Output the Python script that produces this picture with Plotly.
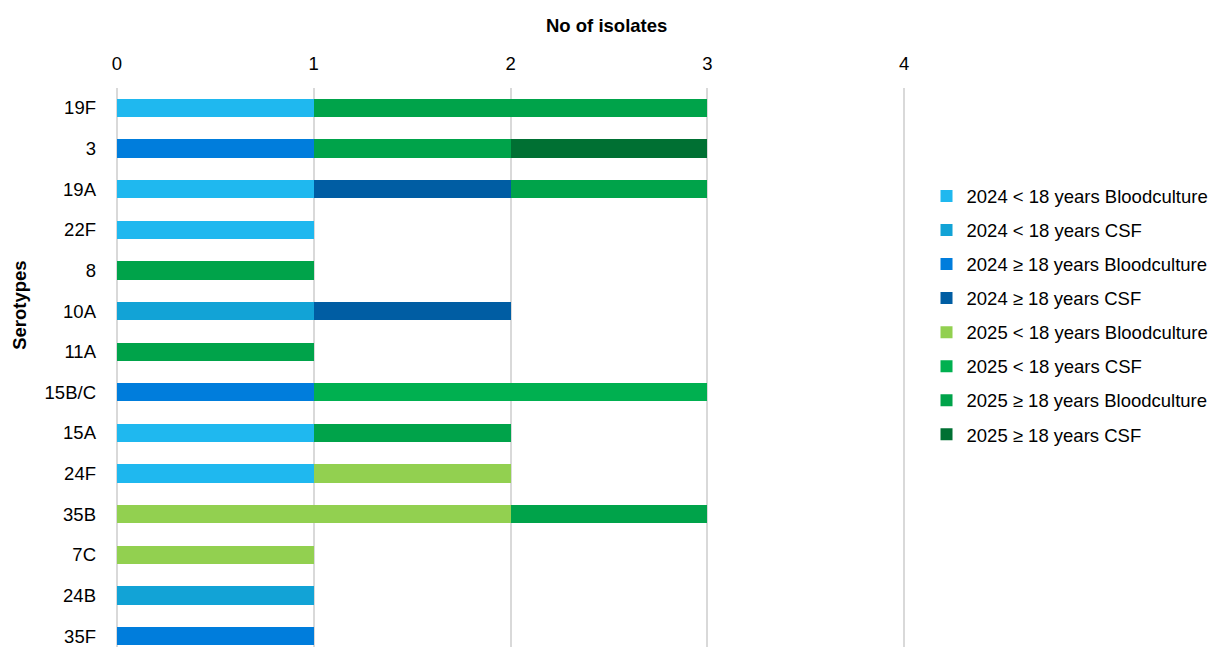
import plotly.graph_objects as go

# Serotypes, listed top to bottom
serotypes = ["19F", "3", "19A", "22F", "8", "10A", "11A", "15B/C",
             "15A", "24F", "35B", "7C", "24B", "35F"]

series_names = [
    "2024 < 18 years Bloodculture",
    "2024 < 18 years CSF",
    "2024 ≥ 18 years Bloodculture",
    "2024 ≥ 18 years CSF",
    "2025 < 18 years Bloodculture",
    "2025 < 18 years CSF",
    "2025 ≥ 18 years Bloodculture",
    "2025 ≥ 18 years CSF",
]

# Number of isolates per serotype (same order as serotypes)
y2024_u18_blood = [1, 0, 1, 1, 0, 0, 0, 0, 1, 1, 0, 0, 0, 0]
y2024_u18_csf   = [0, 0, 0, 0, 0, 1, 0, 0, 0, 0, 0, 0, 1, 0]
y2024_o18_blood = [0, 1, 0, 0, 0, 0, 0, 1, 0, 0, 0, 0, 0, 1]
y2024_o18_csf   = [0, 0, 1, 0, 0, 1, 0, 0, 0, 0, 0, 0, 0, 0]
y2025_u18_blood = [0, 0, 0, 0, 0, 0, 0, 0, 0, 1, 2, 1, 0, 0]
y2025_u18_csf   = [0, 0, 0, 0, 0, 0, 0, 2, 0, 0, 0, 0, 0, 0]
y2025_o18_blood = [2, 1, 1, 0, 1, 0, 1, 0, 1, 0, 1, 0, 0, 0]
y2025_o18_csf   = [0, 1, 0, 0, 0, 0, 0, 0, 0, 0, 0, 0, 0, 0]

values = [y2024_u18_blood, y2024_u18_csf, y2024_o18_blood, y2024_o18_csf,
          y2025_u18_blood, y2025_u18_csf, y2025_o18_blood, y2025_o18_csf]

colors = ["#1FB8EF", "#12A3D6", "#007DDC", "#005DA3",
          "#92D050", "#00B050", "#00A34A", "#007033"]

FONT = "Liberation Sans, Arial, sans-serif"
FS = 18.5

fig = go.Figure()
for name, vals, col in zip(series_names, values, colors):
    fig.add_trace(go.Bar(
        x=vals, y=serotypes, orientation="h", name=name,
        marker=dict(color=col, line=dict(width=0)),
        legendgroup=name,
    ))

fig.update_layout(
    width=1214, height=647,
    barmode="stack", bargap=0.55,
    plot_bgcolor="white", paper_bgcolor="white",
    margin=dict(l=117, r=305, t=88, b=0),
    font=dict(family=FONT, size=FS, color="#000000"),
    legend=dict(
        x=1.026, y=0.840, xanchor="left", yanchor="top",
        traceorder="grouped", tracegroupgap=7,
        font=dict(family=FONT, size=FS, color="#000000"),
        bgcolor="rgba(0,0,0,0)",
    ),
    xaxis=dict(
        side="top", range=[0, 4.01], tickvals=[0, 1, 2, 3, 4],
        showgrid=True, gridcolor="#D9D9D9", gridwidth=1.5,
        zeroline=True, zerolinecolor="#D9D9D9", zerolinewidth=1.5,
        showline=False, ticks="",
        tickfont=dict(size=FS), ticklabelstandoff=13,
    ),
    yaxis=dict(
        categoryorder="array", categoryarray=serotypes,
        range=[13.27, -0.49],
        showgrid=False, showline=False, ticks="", zeroline=False,
        tickfont=dict(size=FS), ticklabelstandoff=20,
    ),
    annotations=[
        dict(text="<b>No of isolates</b>", xref="paper", yref="paper",
             x=0.62, y=1.1127, xanchor="center", yanchor="middle",
             showarrow=False, font=dict(size=FS)),
        dict(text="<b>Serotypes</b>", xref="paper", yref="paper",
             x=-0.123, y=0.612, xanchor="center", yanchor="middle",
             textangle=-90, showarrow=False, font=dict(size=FS)),
    ],
)

fig.write_html("out.html")
